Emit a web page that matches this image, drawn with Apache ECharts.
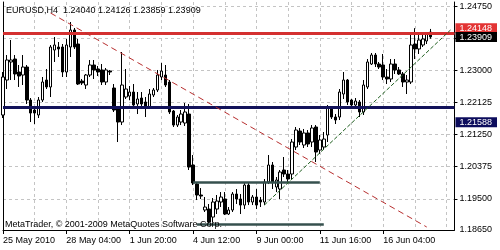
<!DOCTYPE html>
<html><head><meta charset="utf-8">
<script src="https://cdn.jsdelivr.net/npm/echarts@6/dist/echarts.min.js"></script>
<style>html,body{margin:0;padding:0;background:#fff}#c{width:500px;height:250px}</style>
</head><body><div id="c"></div>
<script>
const symbolName = 'EURUSD,H4';
const footerText = 'MetaTrader, \u00a9 2001-2009 MetaQuotes Software Corp.';
const opens = [1.21782,1.22735,1.23226,1.23307,1.22953,1.22871,1.23089,1.22190,1.21918,1.21782,1.22190,1.22735,1.22545,1.23552,1.23634,1.23634,1.22953,1.23634,1.24097,1.23716,1.22708,1.22599,1.22871,1.23144,1.23035,1.23008,1.22681,1.22980,1.22517,1.21945,1.21591,1.22272,1.22299,1.22408,1.22082,1.22245,1.22136,1.22000,1.22327,1.22463,1.22817,1.22871,1.22681,1.21891,1.21509,1.21591,1.21564,1.21809,1.20420,1.19902,1.19603,1.19194,1.19221,1.19003,1.19221,1.19412,1.19494,1.19085,1.19194,1.19630,1.19494,1.19330,1.19875,1.19412,1.19548,1.19466,1.19412,1.19957,1.20420,1.19821,1.19766,1.20284,1.20175,1.20175,1.20910,1.21346,1.20965,1.21292,1.21046,1.21455,1.20828,1.20910,1.21237,1.21973,1.21727,1.21727,1.22354,1.22735,1.22190,1.22054,1.22136,1.21864,1.22545,1.23171,1.23416,1.23171,1.23144,1.22817,1.22763,1.23171,1.23008,1.22899,1.22681,1.22681,1.23716,1.23580,1.23689,1.23798,1.24040];
const closes = [1.22817,1.23280,1.23280,1.22899,1.22844,1.23089,1.22190,1.21836,1.21836,1.22190,1.22681,1.22545,1.23634,1.23689,1.23580,1.22953,1.23689,1.24097,1.23634,1.22626,1.22654,1.22871,1.23144,1.23008,1.22953,1.22681,1.23008,1.22953,1.21918,1.21591,1.22599,1.22490,1.22408,1.22054,1.22218,1.22082,1.22000,1.22354,1.22463,1.22871,1.22980,1.22599,1.21864,1.21509,1.21727,1.21809,1.21864,1.20365,1.19930,1.19603,1.19575,1.19276,1.18867,1.19412,1.19439,1.19548,1.19085,1.19194,1.19630,1.19494,1.19330,1.19875,1.19412,1.19548,1.19330,1.19412,1.19957,1.20420,1.19957,1.20011,1.20229,1.20175,1.20039,1.21046,1.21373,1.21046,1.21292,1.20992,1.21428,1.20774,1.21101,1.21128,1.21973,1.21727,1.21646,1.22408,1.22735,1.22136,1.22054,1.22163,1.21864,1.22599,1.23226,1.23416,1.23171,1.23089,1.22817,1.22763,1.23171,1.23008,1.22899,1.22681,1.22735,1.23689,1.23580,1.23825,1.23852,1.23988,1.23909];
const lows = [1.21700,1.22490,1.22735,1.22735,1.22545,1.22599,1.22082,1.21591,1.21537,1.21700,1.22136,1.22490,1.22272,1.23226,1.23362,1.22817,1.22817,1.23362,1.23580,1.22599,1.22599,1.22490,1.22817,1.22763,1.22844,1.22599,1.22599,1.22871,1.21864,1.21046,1.21509,1.22218,1.22190,1.21945,1.21809,1.21945,1.21727,1.21945,1.22272,1.22408,1.22735,1.22545,1.21809,1.21455,1.21455,1.21509,1.21482,1.20284,1.19875,1.19466,1.19494,1.19140,1.18813,1.18867,1.19085,1.19276,1.19058,1.19058,1.19140,1.19358,1.19085,1.19221,1.19330,1.19330,1.19221,1.19276,1.19330,1.19902,1.19766,1.19684,1.19494,1.20093,1.19957,1.20039,1.20828,1.20965,1.20883,1.20910,1.20910,1.20502,1.20720,1.20828,1.21046,1.21673,1.21537,1.21646,1.22218,1.22054,1.21945,1.21973,1.21727,1.21782,1.22490,1.23144,1.23089,1.23035,1.22735,1.22626,1.22681,1.22899,1.22871,1.22545,1.22354,1.22626,1.23307,1.23444,1.23634,1.23716,1.23859];
const highs = [1.22953,1.23416,1.23825,1.23416,1.23144,1.23416,1.23144,1.22245,1.22027,1.22272,1.22817,1.23035,1.23689,1.23907,1.23770,1.23716,1.23852,1.24315,1.24152,1.23852,1.22763,1.22899,1.23280,1.23280,1.23117,1.23171,1.23062,1.23008,1.22626,1.22000,1.23498,1.23035,1.22572,1.22626,1.22408,1.22408,1.22272,1.22490,1.22517,1.23008,1.23198,1.23144,1.22735,1.21918,1.21782,1.21918,1.22109,1.22082,1.20692,1.19957,1.19793,1.19548,1.19358,1.19521,1.19603,1.19684,1.19684,1.19276,1.19684,1.19766,1.19630,1.19957,1.19957,1.19603,1.19766,1.19548,1.20039,1.20692,1.20502,1.20093,1.20284,1.20638,1.20284,1.21128,1.21455,1.21428,1.21401,1.21373,1.21509,1.21509,1.21237,1.21319,1.22054,1.22027,1.21809,1.22490,1.22953,1.22763,1.22218,1.22245,1.22190,1.22735,1.23307,1.23471,1.23471,1.23226,1.23444,1.23035,1.23307,1.23307,1.23089,1.22953,1.22871,1.23961,1.24148,1.23961,1.23961,1.24043,1.24126];
const emptySlots = 6;
const barsPerLabel = 16;
const barsPerGrid = 8;
const tickLabels = ['25 May 2010','28 May 04:00','1 Jun 20:00','4 Jun 12:00','9 Jun 00:00','11 Jun 16:00','16 Jun 04:00'];
const gridPrices = [1.195,1.20375,1.2125,1.22125,1.23,1.23875,1.2475];
const axisPrices = [1.1865,1.195,1.20375,1.2125,1.22125,1.23,1.2475];
const priceMin = 1.1865, priceMax = 1.2486;
const resistance = 1.24148;
const support = 1.21588;
const bid = 1.23909;
const boxUpper = {from: 48, to: 80, price: 1.19957};
const boxLower = {from: 49, to: 81, price: 1.18813};
const redTrend = [[12, 1.24560],[107, 1.18731]];
const greenTrend = [[66, 1.19330],[113, 1.24097]];

const FONT = 'Liberation Sans';
const nBars = opens.length;
const categories = Array.from({length: nBars + emptySlots}, (_, i) => String(i));
const candleData = opens.map((o, i) => [o, closes[i], lows[i], highs[i]]);
const last = nBars - 1;
const header = symbolName + '  ' + [opens[last], highs[last], lows[last], closes[last]].map(v => v.toFixed(5)).join(' ');
const labelAt = (i) => i % barsPerLabel === 0 && i / barsPerLabel < tickLabels.length;

function tagAxis(value, bg) {
  return {
    type: 'value', position: 'right', min: priceMin, max: priceMax,
    axisLine: {show: false}, axisTick: {show: false}, splitLine: {show: false},
    axisLabel: {
      customValues: [value], margin: 1, fontFamily: FONT,
      formatter: v => '{t|' + v.toFixed(5) + '}',
      rich: {t: {backgroundColor: bg, color: '#fff', fontSize: 9, lineHeight: 10, padding: [1, 5, 0, 4], fontFamily: FONT}}
    }
  };
}

const chart = echarts.init(document.getElementById('c'), null, {renderer: 'canvas'});
chart.setOption({
  animation: false,
  backgroundColor: '#fff',
  textStyle: {fontFamily: FONT},
  title: [
    {text: header, left: 6, top: 6, padding: 0, textStyle: {fontSize: 9, fontWeight: 'normal', color: '#000', fontFamily: FONT}},
    {text: footerText, left: 5, top: 220, padding: 0, textStyle: {fontSize: 9, fontWeight: 'normal', color: '#000', fontFamily: FONT}}
  ],
  grid: {left: 2, right: 39, top: 2, bottom: 20, containLabel: false},
  xAxis: {
    type: 'category', data: categories, boundaryGap: false,
    axisLine: {show: true, lineStyle: {color: '#000', width: 1}},
    axisTick: {show: true, interval: labelAt, length: 4, lineStyle: {color: '#000'}},
    axisLabel: {interval: labelAt, formatter: (v, i) => tickLabels[i / barsPerLabel] || '', align: 'left', margin: 6, fontSize: 9, color: '#000', fontFamily: FONT},
    splitLine: {show: true, interval: (i) => i > 0 && i % barsPerGrid === 0, lineStyle: {color: '#c4c4c4', type: [3, 3], width: 1}}
  },
  yAxis: [
    {
      type: 'value', position: 'right', min: priceMin, max: priceMax,
      axisLine: {show: true, lineStyle: {color: '#000'}},
      axisTick: {show: true, customValues: gridPrices, length: 3, lineStyle: {color: '#000'}},
      axisLabel: {customValues: axisPrices, formatter: v => v.toFixed(5), margin: 5, fontSize: 9, color: '#000', fontFamily: FONT},
      splitLine: {show: true, lineStyle: {color: '#c4c4c4', type: [3, 3], width: 1}}
    },
    tagAxis(resistance, '#e33434'),
    tagAxis(bid, '#000000'),
    tagAxis(support, '#0c0c5c'),
    {
      type: 'value', position: 'left', min: priceMin, max: priceMax,
      axisLine: {show: true, lineStyle: {color: '#000'}}, axisTick: {show: false},
      axisLabel: {show: false}, splitLine: {show: false}
    }
  ],
  series: [{
    type: 'candlestick', data: candleData, barWidth: 3, yAxisIndex: 0,
    itemStyle: {color: '#fff', color0: '#000', borderColor: '#000', borderColor0: '#000', borderWidth: 1},
    markLine: {
      symbol: ['none', 'none'], silent: true, animation: false, label: {show: false},
      data: [
        {yAxis: bid, lineStyle: {color: '#9a9a9a', width: 1, type: 'solid'}},
        {yAxis: resistance, lineStyle: {color: '#d43030', width: 3, type: 'solid'}},
        {yAxis: support, lineStyle: {color: '#12125a', width: 3, type: 'solid'}},
        [{coord: [String(boxUpper.from), boxUpper.price], lineStyle: {color: '#36504e', width: 2.5, type: 'solid'}}, {coord: [String(boxUpper.to), boxUpper.price]}],
        [{coord: [String(boxLower.from), boxLower.price], lineStyle: {color: '#36504e', width: 2.5, type: 'solid'}}, {coord: [String(boxLower.to), boxLower.price]}],
        [{coord: [String(redTrend[0][0]), redTrend[0][1]], lineStyle: {color: '#b83030', width: 1, type: [6, 4]}}, {coord: [String(redTrend[1][0]), redTrend[1][1]]}],
        [{coord: [String(greenTrend[0][0]), greenTrend[0][1]], lineStyle: {color: '#1f5f1f', width: 1, type: [4, 2]}}, {coord: [String(greenTrend[1][0]), greenTrend[1][1]]}]
      ]
    }
  }]
});
</script></body></html>
